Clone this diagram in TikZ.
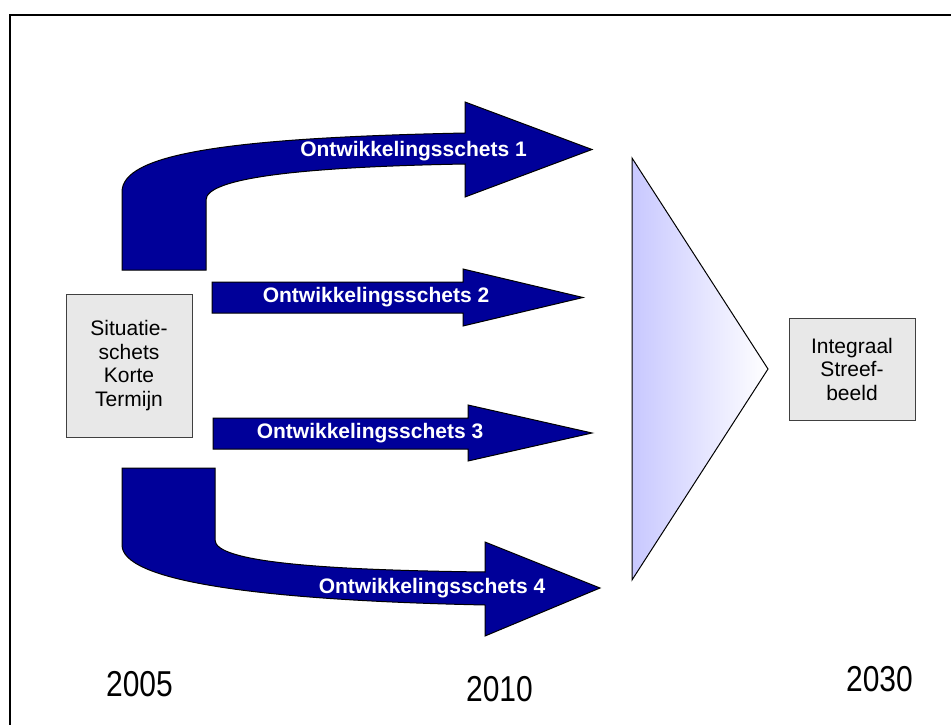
\documentclass[tikz,border=0pt]{standalone}
\usepackage{fontspec}
\usepackage{graphicx}
\setmainfont{Liberation Sans}
\definecolor{navy}{RGB}{0,0,153}
\definecolor{boxgray}{RGB}{232,232,232}
\definecolor{boxline}{RGB}{64,64,64}
\definecolor{lav}{RGB}{200,200,255}
\begin{document}
\begin{tikzpicture}[x=1pt,y=-1pt,
  bigarrow/.style={fill=navy,draw=black,line width=1pt,line join=miter},
  arrlabel/.style={text=white,font=\fontsize{21}{23}\selectfont\bfseries,inner sep=0pt},
  graybox/.style={draw=boxline,fill=boxgray,line width=1pt,align=center,
     font=\fontsize{21}{23.5}\selectfont,inner sep=0pt},
  year/.style={font=\fontsize{30}{32}\selectfont,inner sep=0pt}]
\useasboundingbox (0,0) rectangle (951,725);
\fill[white] (0,0) rectangle (951,725);
% frame
\draw[line width=2pt] (10,725) -- (10,15) -- (951,15);

% arrow 1 (curved, top)
\path[bigarrow] (122,270) -- (122,192)
  .. controls (122,155) and (220,138) .. (465,133)
  -- (465,102) -- (592,149.5) -- (465,197) -- (465,164)
  .. controls (300,167) and (206,178) .. (206,200)
  -- (206,270) -- cycle;
% arrow 2
\path[bigarrow] (212,282) -- (463,282) -- (463,269) -- (583,297.5)
  -- (463,326) -- (463,313) -- (212,313) -- cycle;
% arrow 3
\path[bigarrow] (213,418) -- (468,418) -- (468,405) -- (592,433)
  -- (468,461) -- (468,449) -- (213,449) -- cycle;
% arrow 4 (curved, bottom)
\path[bigarrow] (122,468) -- (215,468) -- (215,540)
  .. controls (215,562) and (320,570) .. (485,572)
  -- (485,542) -- (600,588) -- (485,636) -- (485,605)
  .. controls (250,600) and (122,580) .. (122,545) -- cycle;

\node[arrlabel] (l1) at (413.5,151) {Ontwikkelingsschets 1};
\node[arrlabel] (l2) at (376,297.5) {Ontwikkelingsschets 2};
\node[arrlabel] (l3) at (370,433.5) {Ontwikkelingsschets 3};
\node[arrlabel] (l4) at (432,588) {Ontwikkelingsschets 4};

% funnel triangle
\shade[left color=lav,right color=white] (632,158) -- (768,369) -- (632,580) -- cycle;
\draw[line width=1pt,line join=miter] (632,158) -- (768,369) -- (632,580) -- cycle;

% boxes
\node[graybox,minimum width=126pt,minimum height=143pt] (sit) at (129,365.5)
  {Situatie-\\schets\\Korte\\Termijn};
\node[graybox,minimum width=126pt,minimum height=102pt] (int) at (852,369)
  {Integraal\\Streef-\\beeld};

% years
\node[year] (y1) at (139.5,684) {\scalebox{1}[1.2]{2005}};
\node[year] (y2) at (499.5,689) {\scalebox{1}[1.2]{2010}};
\node[year] (y3) at (879.5,679) {\scalebox{1}[1.2]{2030}};
\end{tikzpicture}
\end{document}
